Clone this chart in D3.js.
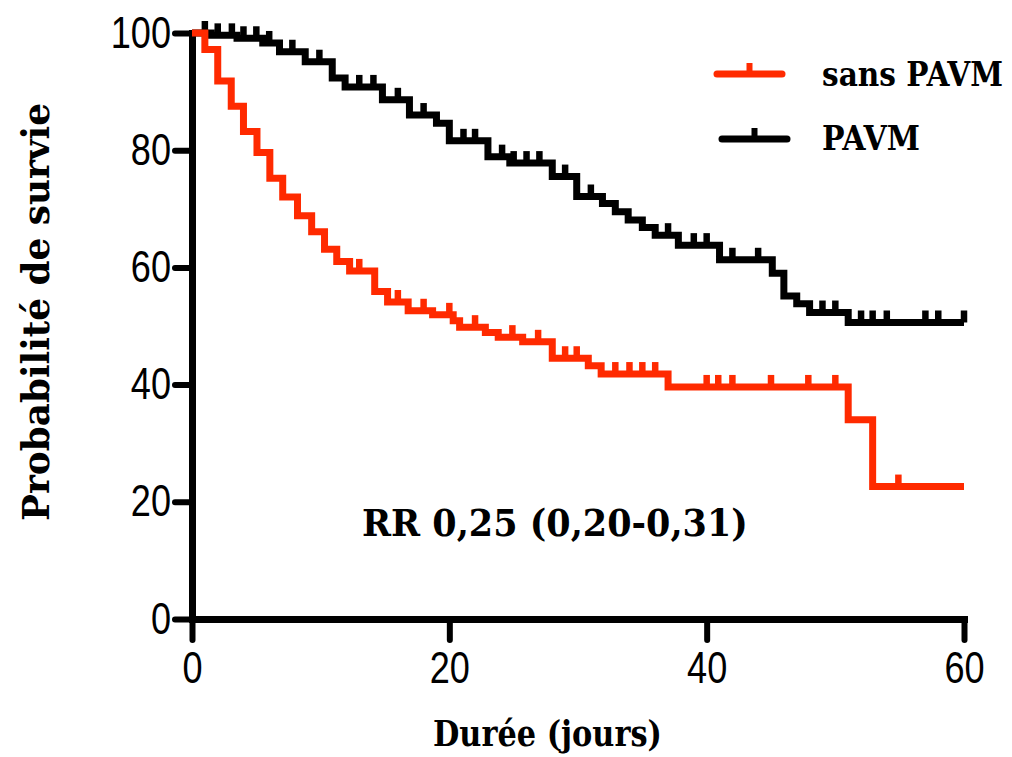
<!DOCTYPE html>
<html>
<head>
<meta charset="utf-8">
<script src="https://cdn.jsdelivr.net/npm/d3@7"></script>
<style>
  body { margin: 0; background: #fff; }
</style>
</head>
<body>
<svg width="1012" height="757"></svg>
<script>
// sans PAVM : event times (days) and survival (%)
var redTimes = [0, 1.0, 2.0, 3.05, 4.0, 5.05, 6.05, 7.05, 8.2, 9.3, 10.3, 11.25, 12.25, 14.2, 15.2, 16.8, 18.7, 20.3, 20.8, 22.8, 23.8, 25.7, 28.0, 30.8, 31.8, 37.0, 51.0, 52.9];
var redSurv  = [100, 97.2, 91.8, 87.5, 83.2, 79.6, 75.2, 72.0, 68.8, 66.1, 63.1, 61.0, 59.4, 55.9, 54.1, 52.6, 51.9, 50.9, 49.8, 48.9, 48.1, 47.3, 44.5, 43.2, 41.8, 39.6, 34.0, 22.6];
var redCensored = [13.0, 16.0, 18.0, 20.0, 22.0, 24.9, 26.9, 29.0, 29.9, 32.9, 34.0, 35.0, 36.0, 40.0, 40.9, 42.0, 45.0, 47.9, 50.0, 54.9];

// PAVM
var blackTimes = [0, 1.5, 3.5, 5.5, 6.8, 8.8, 10.9, 11.9, 14.8, 16.9, 19.0, 20.0, 23.0, 24.7, 28.0, 29.9, 31.9, 32.9, 33.9, 35.0, 36.0, 37.8, 41.0, 45.1, 46.0, 47.0, 48.0, 51.0];
var blackSurv  = [100, 99.6, 99.1, 98.3, 96.8, 95.1, 92.3, 90.8, 88.6, 86.0, 84.6, 81.6, 78.9, 77.8, 75.5, 72.1, 70.9, 69.5, 68.1, 66.8, 65.5, 63.8, 61.3, 59.0, 55.1, 53.8, 52.3, 50.6];
var blackCensored = [1.0, 2.0, 3.1, 4.0, 5.0, 6.0, 7.8, 9.9, 13.0, 14.1, 16.0, 18.0, 21.1, 22.0, 24.1, 25.0, 26.0, 27.0, 29.0, 31.0, 37.0, 39.0, 40.0, 42.0, 44.0, 49.0, 50.0, 52.0, 52.9, 54.0, 57.0, 58.0, 60.0];

var xTicks = [0, 20, 40, 60];
var yTicks = [0, 20, 40, 60, 80, 100];
var endDay = 60;

var RED = "#ff2a00";

var svg = d3.select("svg");

var x = d3.scaleLinear().domain([0, 60]).range([192, 964]);
var y = d3.scaleLinear().domain([0, 100]).range([619, 33]);

function squeeze(sel, k) {
  sel.each(function () {
    var w = this.getComputedTextLength();
    d3.select(this).attr("textLength", w * k).attr("lengthAdjust", "spacingAndGlyphs");
  });
}

// text placed at (tx,ty), squeezed horizontally to a given width
function fitText(str, tx, ty, w, size, rot) {
  var t = svg.append("text")
    .style("font-family", serif).style("font-weight", "bold").style("font-size", size + "px")
    .text(str);
  var k = w / t.node().getComputedTextLength();
  if (rot) {
    t.attr("text-anchor", "middle")
     .attr("transform", "translate(" + tx + "," + ty + ") rotate(-90) scale(" + k + ",1)");
  } else {
    t.attr("transform", "translate(" + tx + "," + ty + ") scale(" + k + ",1)");
  }
  return t;
}

// axes
var gx = svg.append("g")
  .attr("transform", "translate(0,619)")
  .call(d3.axisBottom(x).tickValues(xTicks).tickSize(21).tickSizeOuter(0).tickPadding(12));
var gy = svg.append("g")
  .attr("transform", "translate(192,0)")
  .call(d3.axisLeft(y).tickValues(yTicks).tickSize(17).tickSizeOuter(0).tickPadding(4));

[gx, gy].forEach(function (g) {
  g.select(".domain").attr("stroke", "#000").attr("stroke-width", 7).attr("stroke-linecap", "square");
  g.selectAll(".tick line").attr("stroke", "#000").attr("stroke-width", 6).attr("stroke-linecap", "round");
  g.selectAll(".tick text")
    .attr("fill", "#000")
    .style("font-family", "'Liberation Sans', Arial, sans-serif")
    .style("font-size", "44px");
  squeeze(g.selectAll(".tick text"), 0.82);
});

// curves
var line = d3.line()
  .x(function (d) { return x(d[0]); })
  .y(function (d) { return y(d[1]); })
  .curve(d3.curveStepAfter);

function kmPoints(times, surv) {
  var pts = times.map(function (t, i) { return [t, surv[i]]; });
  pts.push([endDay, surv[surv.length - 1]]);
  return pts;
}

function survAt(times, surv, t) {
  var i = d3.bisectRight(times, t) - 1;
  return surv[Math.max(i, 0)];
}

function drawSeries(times, surv, censored, color) {
  svg.append("path")
    .datum(kmPoints(times, surv))
    .attr("d", line)
    .attr("fill", "none")
    .attr("stroke", color)
    .attr("stroke-width", 7)
    .attr("stroke-linejoin", "miter");

  svg.append("g").selectAll("line")
    .data(censored)
    .enter().append("line")
    .attr("x1", function (d) { return x(d); })
    .attr("x2", function (d) { return x(d); })
    .attr("y1", function (d) { return y(survAt(times, surv, d)); })
    .attr("y2", function (d) { return y(survAt(times, surv, d)) - 12; })
    .attr("stroke", color)
    .attr("stroke-width", 6.5);
}

drawSeries(blackTimes, blackSurv, blackCensored, "#000");
drawSeries(redTimes, redSurv, redCensored, RED);

// labels
var serif = "'DejaVu Serif', 'Liberation Serif', serif";

fitText("Probabilité de survie", 49, 312, 418, 38, true);
fitText("Durée (jours)", 433, 746, 229, 36);
fitText("RR 0,25 (0,20-0,31)", 362, 536, 386, 37);

// legend
var legend = [
  { name: "sans PAVM", color: RED, x0: 717, x1: 782, yl: 74, tx: 822, ty: 86, w: 181 },
  { name: "PAVM", color: "#000", x0: 722, x1: 787, yl: 139, tx: 822, ty: 150, w: 98 }
];

legend.forEach(function (d) {
  svg.append("line")
    .attr("x1", d.x0).attr("x2", d.x1).attr("y1", d.yl).attr("y2", d.yl)
    .attr("stroke", d.color).attr("stroke-width", 7).attr("stroke-linecap", "round");
  svg.append("line")
    .attr("x1", (d.x0 + d.x1) / 2).attr("x2", (d.x0 + d.x1) / 2)
    .attr("y1", d.yl).attr("y2", d.yl - 11)
    .attr("stroke", d.color).attr("stroke-width", 6);
  fitText(d.name, d.tx, d.ty, d.w, 34);
});
</script>
</body>
</html>
